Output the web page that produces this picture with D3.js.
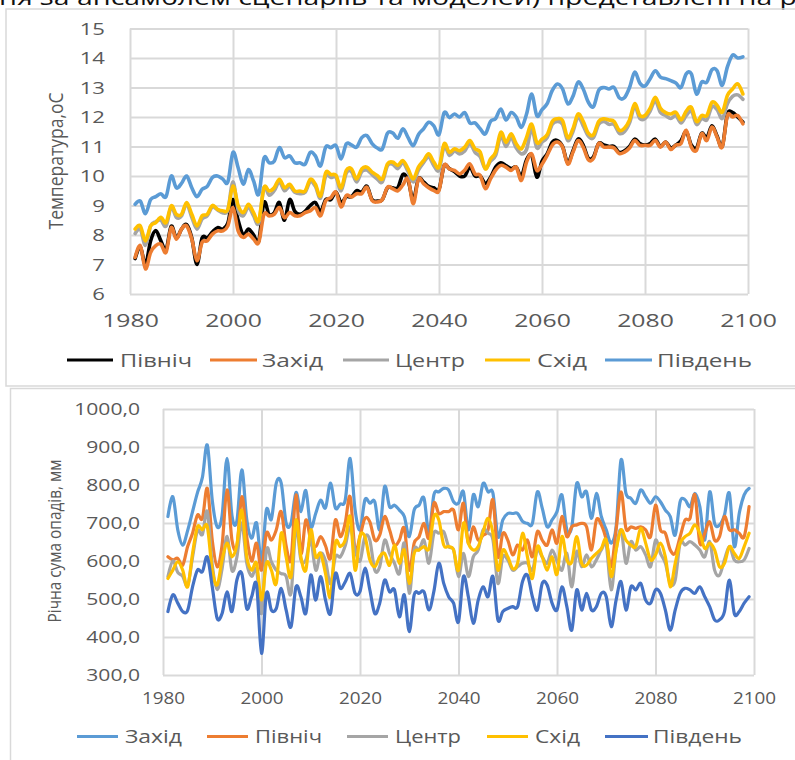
<!DOCTYPE html>
<html><head><meta charset="utf-8">
<script src="https://cdn.jsdelivr.net/npm/d3@7"></script>
<style>body{margin:0;background:#fff;} svg{display:block;font-family:"Open Sans",sans-serif;}</style>
</head><body><svg id="c" width="795" height="760"></svg>
<script>
// ---------- DATA ----------
const years = d3.range(1981, 2100);            // 1981 … 2099
const yearTicks = [1980, 2000, 2020, 2040, 2060, 2080, 2100];
const tempTicks = [6, 7, 8, 9, 10, 11, 12, 13, 14, 15];
const precTicks = [300, 400, 500, 600, 700, 800, 900, 1000];

// Temperature, °C
const tNorth = [7.2,7.6,7.0,7.8,8.15,7.8,7.5,8.3,7.9,8.2, 8.35,7.9,7.0,7.9,7.9,8.1,8.25,8.2,8.4,9.2,
 8.5,8.0,8.2,8.0,7.8,9.1,8.7,8.75,9.1,8.5, 9.2,8.8,8.7,8.8,9.0,9.1,8.8,9.2,9.2,9.45,
 9.1,9.3,9.3,9.5,9.45,9.65,9.2,9.15,9.2,9.6, 9.6,9.6,10.05,9.85,9.2,9.9,9.8,9.65,9.6,9.55,
 10.35,10.25,10.15,10.0,10.0,10.3,10.0,10.0,9.75,9.95, 10.3,10.45,10.35,10.25,10.3,10.0,10.55,10.7,9.96,10.5,
 10.75,11.15,11.2,11.0,10.45,10.85,11.25,11.05,10.6,10.65, 11.1,11.05,11.0,11.0,10.8,10.85,11.0,11.25,11.1,11.05,
 11.1,11.25,11.0,11.15,10.95,11.05,11.2,11.5,11.05,10.95, 11.45,11.3,11.7,11.35,11.0,12.1,12.15,12.0,11.83];
const tWest = [7.24,7.64,6.85,7.41,7.64,7.69,7.41,8.25,7.86,8.2, 8.31,7.86,7.13,7.75,7.8,8.03,8.14,8.14,8.31,8.93,
 8.14,7.92,8.03,7.86,7.75,8.7,8.65,8.7,8.93,8.59, 8.76,8.65,8.65,8.76,8.82,8.93,8.65,9.16,9.27,9.45,
 8.95,9.34,9.29,9.4,9.4,9.62,9.17,9.12,9.2,9.62, 9.57,9.5,9.7,9.9,9.06,9.9,9.74,9.6,9.51,9.51,
 10.36,10.24,10.19,10.07,10.2,10.41,10.07,10.02,9.57,9.9, 10.2,10.36,10.3,10.19,10.3,9.85,10.47,10.75,10.19,10.4,
 10.7,11.05,11.15,10.98,10.4,10.8,11.2,10.98,10.55,10.6, 11.1,10.98,10.98,10.95,10.76,10.81,10.95,11.2,11.04,11.04,
 11.04,11.2,10.98,11.15,10.9,11.05,11.1,11.55,10.98,10.87, 11.43,11.2,11.66,11.32,10.98,12.05,12.0,12.05,11.77];
const tCenter = [8.05,8.2,7.65,8.3,8.45,8.5,8.3,8.95,8.6,8.65, 9.05,8.6,8.2,8.55,8.65,8.95,8.85,8.75,8.85,9.8,
 8.85,8.65,8.95,8.65,8.4,9.6,9.35,9.5,9.8,9.5, 9.65,9.45,9.4,9.45,9.8,9.65,9.25,10.0,9.95,9.95,
 9.5,10.1,10.15,9.8,10.15,10.2,10.05,9.9,9.8,10.35, 10.4,10.25,10.45,10.15,9.8,10.2,10.45,10.65,10.35,10.2,
 11.0,10.7,10.85,10.75,10.85,11.1,10.8,10.65,10.25,10.5, 10.7,11.35,11.0,11.3,10.95,10.75,10.9,11.6,10.95,11.15,
 11.3,11.75,11.85,11.75,11.2,11.5,12.0,11.7,11.35,11.3, 11.75,11.85,11.75,11.75,11.45,11.5,11.8,12.35,11.95,11.95,
 12.2,12.55,12.15,12.05,11.95,12.05,11.8,12.05,12.2,11.75, 11.95,11.9,12.35,12.25,11.95,12.45,12.7,12.75,12.6];
const tEast = [8.2,8.31,7.8,8.31,8.42,8.6,8.42,8.99,8.7,8.7, 9.1,8.7,8.31,8.65,8.7,9.0,8.87,8.82,8.87,9.66,
 9.0,8.76,9.04,8.76,8.48,9.6,9.49,9.6,9.89,9.6, 9.72,9.49,9.49,9.49,9.89,9.72,9.32,10.11,10.05,10.02,
 9.6,10.19,10.24,9.9,10.24,10.3,10.13,10.02,9.9,10.41, 10.47,10.36,10.52,10.24,9.9,10.3,10.52,10.75,10.47,10.3,
 11.09,10.81,10.92,10.86,10.98,11.2,10.92,10.81,10.24,10.58, 10.81,11.48,11.14,11.43,11.09,10.92,11.31,11.76,11.14,11.25,
 11.4,11.85,11.94,11.88,11.3,11.6,12.1,11.85,11.45,11.4, 11.85,11.94,11.9,11.85,11.55,11.62,11.9,12.45,12.05,12.05,
 12.3,12.67,12.3,12.15,12.1,12.16,11.9,12.2,12.33,11.85, 12.05,12.05,12.5,12.4,12.16,12.73,12.95,13.12,12.78];
const tSouth = [9.04,9.15,8.72,9.2,9.3,9.4,9.3,10.0,9.6,9.75, 10.0,9.6,9.3,9.55,9.65,9.95,10.0,9.9,9.8,10.8,
 10.28,9.72,10.22,9.83,9.38,10.6,10.45,10.5,10.96,10.62, 10.68,10.45,10.45,10.4,10.8,10.68,10.34,10.98,10.96,11.03,
 10.58,11.09,11.05,10.98,11.3,11.37,11.1,10.95,10.92,11.45, 11.46,11.28,11.6,11.3,11.03,11.4,11.6,11.82,11.7,11.4,
 12.15,11.98,12.1,12.0,12.15,11.8,11.8,11.6,11.43,11.85, 11.95,12.27,11.9,12.15,12.0,11.65,12.1,12.78,12.04,12.25,
 12.45,12.9,13.12,12.95,12.45,12.7,13.18,12.95,12.5,12.35, 12.9,13.0,12.95,13.0,12.65,12.65,13.0,13.52,13.15,13.05,
 13.3,13.57,13.35,13.3,13.23,13.15,13.0,13.46,13.46,12.78, 13.18,13.18,13.6,13.57,13.07,13.7,14.1,14.0,14.04];

// Annual precipitation, mm
const pWest = [717,769,682,642,680,730,780,820,905,760, 690,720,870,720,705,840,710,660,700,600,
 735,710,805,805,700,700,780,730,785,690, 725,760,740,805,740,750,760,870,735,682,
 761,752,756,682,796,743,747,734,717,664, 734,747,765,673,774,782,791,787,756,752,
 782,682,774,743,804,782,778,664,708,725, 725,725,704,699,699,782,739,690,708,730,
 774,682,690,804,769,782,712,778,717,682, 647,690,866,778,765,752,787,769,752,769,
 756,734,717,668,756,761,743,778,743,655, 782,699,695,721,778,638,725,774,791];
const pNorth = [611,603,607,589,638,673,721,712,791,655, 585,642,787,655,638,769,664,600,647,576,
 673,655,682,730,640,605,774,620,708,655, 638,664,640,607,708,664,700,769,629,665,
 712,703,655,668,717,682,642,655,686,576, 647,664,699,660,752,725,730,730,734,682,
 752,647,690,655,668,682,761,611,673,655, 616,642,629,655,611,677,655,642,682,647,
 717,664,690,695,699,690,629,708,695,655, 585,682,782,686,690,686,690,682,664,747,
 682,673,629,620,664,708,712,774,647,673, 703,655,664,717,682,682,673,664,743];
const pCenter = [559,600,570,560,535,610,680,670,730,590, 525,580,665,575,610,700,595,560,576,462,
 629,598,576,567,560,515,690,603,603,655, 576,620,600,540,611,611,640,690,629,600,
 664,655,576,585,655,620,594,567,647,515, 629,629,655,594,673,673,677,638,629,559,
 620,559,611,629,682,673,655,541,611,603, 576,585,594,594,576,629,611,594,629,600,
 576,620,532,625,585,616,585,603,629,642, 524,629,682,594,651,629,638,616,585,655,
 620,594,541,550,647,642,651,642,629,611, 651,576,563,603,638,603,598,603,633];
const pEast = [554,576,598,576,532,620,690,682,690,576, 537,603,647,611,642,734,611,576,594,497,
 594,576,541,673,611,559,708,611,576,682, 611,620,567,506,647,638,655,717,576,665,
 664,603,585,611,620,589,642,594,629,541, 620,629,638,633,717,708,642,638,629,576,
 699,647,629,638,677,712,673,576,629,611, 580,594,673,611,554,638,611,576,611,565,
 664,603,598,664,594,589,607,620,633,655, 559,629,682,655,642,638,686,647,603,616,
 647,611,532,594,647,664,673,695,673,633, 647,629,585,594,638,620,607,638,673];
const pSouth = [467,511,489,467,470,532,576,572,611,532, 449,462,519,467,550,567,475,506,537,357,
 515,471,475,528,471,427,532,506,462,563, 497,559,497,462,567,528,545,567,515,520,
 581,524,462,489,550,519,524,453,511,414, 511,515,519,471,520,594,541,506,489,440,
 559,506,436,497,532,506,559,445,467,475, 480,480,546,563,506,471,541,537,489,471,
 532,480,418,524,471,515,471,480,515,506, 427,497,546,471,532,524,541,497,489,524,
 515,471,418,471,515,528,524,515,532,506, 480,445,445,467,550,462,467,489,506];

const tempSeries = [
  {name: "Північ", values: tNorth, color: "#000000"},
  {name: "Захід", values: tWest, color: "#ED7D31"},
  {name: "Центр", values: tCenter, color: "#A5A5A5"},
  {name: "Схід", values: tEast, color: "#FFC000"},
  {name: "Південь", values: tSouth, color: "#5B9BD5"}
];
const precSeries = [
  {name: "Захід", values: pWest, color: "#5B9BD5"},
  {name: "Північ", values: pNorth, color: "#ED7D31"},
  {name: "Центр", values: pCenter, color: "#A5A5A5"},
  {name: "Схід", values: pEast, color: "#FFC000"},
  {name: "Південь", values: pSouth, color: "#4472C4"}
];
const headerText = "ня за ансамблем сценаріїв та моделей) представлені на р";

// ---------- DRAW ----------
const svg = d3.select("#c");
const GRID = "#d9d9d9", TXT = "#595959";

svg.append("text").attr("x", -1).attr("y", 5).attr("font-size", 21).attr("fill", "#111")
  .attr("textLength", 798).attr("lengthAdjust", "spacingAndGlyphs").text(headerText);

// chart frames
svg.append("rect").attr("x", 6).attr("y", 9).attr("width", 800).attr("height", 377)
  .attr("fill", "none").attr("stroke", GRID).attr("stroke-width", 1.5);
svg.append("path").attr("d", "M10.5,762V388.5H800").attr("fill", "none")
  .attr("stroke", GRID).attr("stroke-width", 1.5);

function drawPanel(p) {
  const x = d3.scaleLinear().domain([yearTicks[0], yearTicks[yearTicks.length - 1]]).range([p.left, p.right]);
  const y = d3.scaleLinear().domain([p.yTicks[0], p.yTicks[p.yTicks.length - 1]]).range([p.bottom, p.top]);
  const g = svg.append("g");

  // grid
  g.append("g").attr("transform", `translate(${p.left},0)`)
    .call(d3.axisLeft(y).tickValues(p.yTicks).tickSize(-(p.right - p.left)).tickFormat(""))
    .call(a => { a.select(".domain").remove(); a.selectAll("line").attr("stroke", GRID).attr("stroke-width", 2); });
  g.append("g").attr("transform", `translate(0,${p.bottom})`)
    .call(d3.axisBottom(x).tickValues(yearTicks).tickSize(-(p.bottom - p.top)).tickFormat(""))
    .call(a => { a.select(".domain").remove(); a.selectAll("line").attr("stroke", GRID).attr("stroke-width", 2); });

  // y labels
  const ya = g.append("g").attr("transform", `translate(${p.yLabelRight},0)`)
    .call(d3.axisLeft(y).tickValues(p.yTicks).tickSize(0).tickPadding(0).tickFormat(p.fmt));
  ya.select(".domain").remove();
  ya.attr("font-family", null).attr("font-size", null);
  ya.selectAll("text").attr("x", 0).attr("dy", "0.36em").attr("font-size", p.yFont)
    .attr("fill", TXT).attr("transform", `scale(${p.sx},1)`);

  // x labels
  const xa = g.append("g").attr("transform", `translate(0,${p.xBase})`)
    .call(d3.axisBottom(x).tickValues(yearTicks).tickSize(0).tickPadding(0).tickFormat(d3.format("d")));
  xa.select(".domain").remove();
  xa.attr("font-family", null).attr("font-size", null);
  xa.selectAll("text").attr("y", 0).attr("dy", 0).attr("font-size", p.xFont)
    .attr("fill", TXT).attr("transform", `scale(${p.sxX},1)`);

  // y title
  g.append("text").attr("transform", `translate(${p.titleX},${p.titleY}) rotate(-90) scale(1,${p.titleSy})`)
    .attr("text-anchor", "middle").attr("dy", "0.35em").attr("font-size", p.titleFont).attr("fill", TXT)
    .attr("textLength", p.titleLen).attr("lengthAdjust", "spacingAndGlyphs").text(p.title);

  // lines
  const line = d3.line().x((d, i) => x(years[i])).y(d => y(d)).curve(d3.curveCatmullRom.alpha(0));
  p.series.forEach(s => {
    g.append("path").datum(s.values).attr("d", line).attr("fill", "none")
      .attr("stroke", s.color).attr("stroke-width", p.lw).attr("stroke-linejoin", "round").attr("stroke-linecap", "round");
  });

  // legend
  p.series.forEach((s, i) => {
    const L = p.legend[i];
    g.append("line").attr("x1", L[0]).attr("x2", L[1]).attr("y1", p.legLineY).attr("y2", p.legLineY)
      .attr("stroke", s.color).attr("stroke-width", 3.2);
    g.append("text").attr("x", L[2]).attr("y", p.legBase).attr("font-size", p.legFont).attr("fill", TXT)
      .attr("textLength", L[3]).attr("lengthAdjust", "spacingAndGlyphs").text(s.name);
  });
}

drawPanel({
  left: 130, right: 748, top: 28.5, bottom: 294,
  yTicks: tempTicks, fmt: d3.format("d"),
  yLabelRight: 105, yFont: 16.5, sx: 1.34,
  xBase: 326.5, xFont: 18.5, sxX: 1.34,
  title: "Температура,оС", titleX: 56, titleY: 161, titleFont: 17, titleLen: 137, titleSy: 1.2,
  series: tempSeries, lw: 3.6,
  legend: [[67, 113, 120, 72], [210, 257, 262, 61], [343, 389, 395, 70], [485, 530, 537, 50], [605, 652, 657, 95]],
  legLineY: 360, legBase: 366.5, legFont: 17.5
});

drawPanel({
  left: 163, right: 754, top: 409, bottom: 675,
  yTicks: precTicks, fmt: d => d3.format(".1f")(d).replace(".", ","),
  yLabelRight: 140, yFont: 16.5, sx: 1.28,
  xBase: 704, xFont: 15.5, sxX: 1.22,
  title: "Річна сума опадів, мм", titleX: 55, titleY: 541, titleFont: 15, titleLen: 163, titleSy: 1.15,
  series: precSeries, lw: 3.2,
  legend: [[77, 118, 125, 57], [207, 248, 255, 67], [347, 388, 395, 66], [487, 528, 535, 45], [605, 648, 653, 89]],
  legLineY: 736.5, legBase: 743, legFont: 17.5
});
</script>
</body></html>
